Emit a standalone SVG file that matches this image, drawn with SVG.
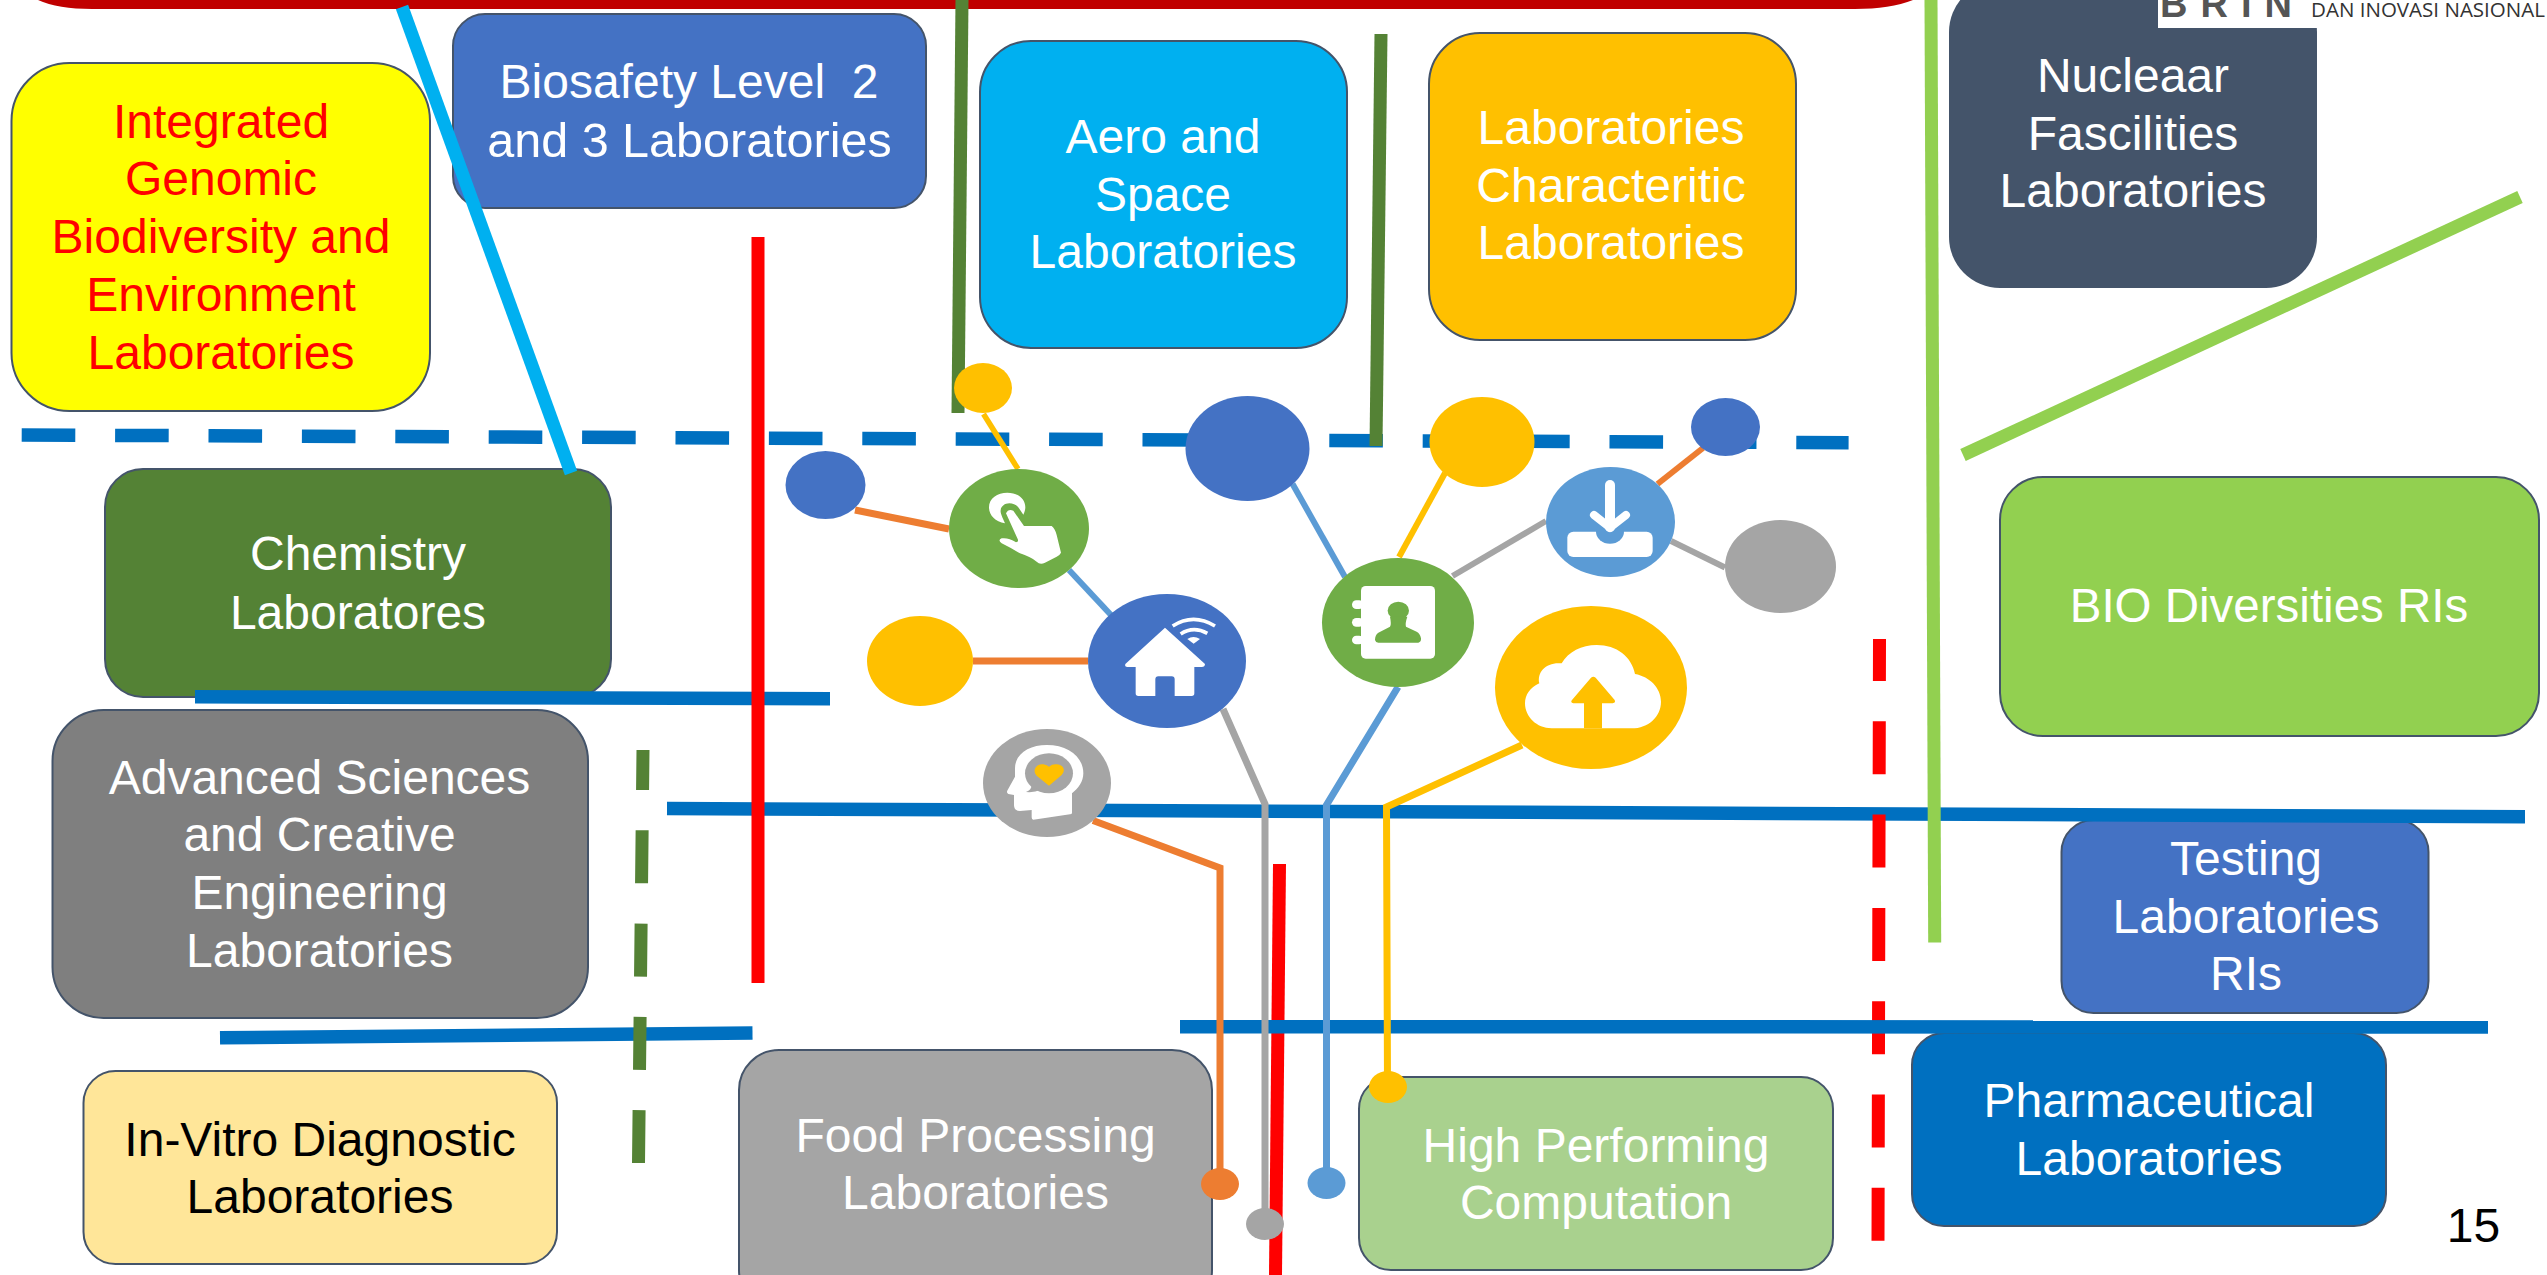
<svg xmlns="http://www.w3.org/2000/svg" width="2547" height="1275" viewBox="0 0 2547 1275">
<style>
text{font-family:"Liberation Sans",Arial,sans-serif;font-size:48px;text-anchor:middle;fill:#fff;white-space:pre}
.box{stroke:#44546A;stroke-width:2}
.w{fill:#fff}
.b13{stroke:#0070C0;stroke-width:13.5;fill:none}
.r13{stroke:#FF0000;stroke-width:13;fill:none}
.g13{stroke:#548235;stroke-width:13;fill:none}
.l13{stroke:#92D050;stroke-width:13;fill:none}
.c{fill:none;stroke-linejoin:miter}
.or{stroke:#ED7D31}.ye{stroke:#FFC000}.lb{stroke:#5B9BD5}.gr{stroke:#A5A5A5}
</style>
<rect width="2547" height="1275" fill="#fff"/>
<g id="top-bar"><path d="M38,0 Q58,9 92,9 L1855,9 Q1890,9 1913,0 Z" fill="#C00000"/></g>
<g id="integrated"><rect class="box" x="11.500" y="63" width="418.500" height="348" rx="58" fill="#FFFF00"/>
<text y="138" x="221" style="fill:#FF0000">Integrated</text><text y="195" x="221" style="fill:#FF0000">Genomic</text><text y="253" x="221" style="fill:#FF0000">Biodiversity and</text><text y="311" x="221" style="fill:#FF0000">Environment</text><text y="368.500" x="221" style="fill:#FF0000">Laboratories</text></g>
<g id="biosafety"><rect class="box" x="453" y="14" width="473" height="194" rx="32" fill="#4472C4"/>
<text x="689" y="98">Biosafety Level  2</text><text x="689.500" y="157" style="font-size:48.500px">and 3 Laboratories</text></g>
<g id="aero"><rect class="box" x="980" y="41" width="367" height="307" rx="51" fill="#00B0F0"/>
<text x="1163" y="153">Aero and</text><text x="1163" y="210.500">Space</text><text x="1163" y="268">Laboratories</text></g>
<g id="characteristic"><rect class="box" x="1429" y="33" width="367" height="307" rx="51" fill="#FFC000"/>
<text x="1611" y="144">Laboratories</text><text x="1611" y="202">Characteritic</text><text x="1611" y="259">Laboratories</text></g>
<g id="nuclear"><rect x="1949" y="-19" width="368" height="307" rx="51" fill="#44546A"/>
<text x="2133" y="92">Nucleaar</text><text x="2133" y="149.500">Fascilities</text><text x="2133" y="207">Laboratories</text></g>
<g id="logo"><rect x="2158" y="0" width="389" height="28" fill="#fff"/>
<text x="2160" y="17" style="text-anchor:start;font-size:38px;font-weight:bold;letter-spacing:13px;fill:#555">BRIN</text>
<text x="2311" y="16.500" textLength="234" lengthAdjust="spacingAndGlyphs" style="text-anchor:start;font-size:20px;fill:#333;font-family:'Open Sans','Liberation Sans',sans-serif">DAN INOVASI NASIONAL</text></g>
<g id="bio-diversities"><rect class="box" x="2000" y="477" width="539" height="259" rx="43" fill="#92D050"/>
<text x="2269" y="622" style="font-size:47.500px">BIO Diversities RIs</text></g>
<g id="chemistry"><rect class="box" x="105" y="469" width="506" height="228" rx="38" fill="#548235"/>
<text x="358" y="569.500">Chemistry</text><text x="358" y="628.500">Laboratores</text></g>
<g id="advanced"><rect class="box" x="52.500" y="710" width="535.500" height="308" rx="51" fill="#7F7F7F"/>
<text x="319.500" y="794">Advanced Sciences</text><text x="319.500" y="850.500">and Creative</text><text x="319.500" y="908.500">Engineering</text><text x="319.500" y="966.500">Laboratories</text></g>
<g id="in-vitro"><rect class="box" x="83.500" y="1071" width="473.500" height="193" rx="32" fill="#FFE699"/>
<text x="320" y="1155.500" style="fill:#000">In-Vitro Diagnostic</text><text x="320" y="1212.500" style="fill:#000">Laboratories</text></g>
<g id="food"><rect class="box" x="739" y="1050" width="473" height="260" rx="40" fill="#A5A5A5"/>
<text x="975.500" y="1151.500">Food Processing</text><text x="975.500" y="1208.500">Laboratories</text></g>
<g id="high-performing"><rect class="box" x="1359" y="1077" width="474" height="193" rx="32" fill="#A9D18E"/>
<text x="1596" y="1161.500">High Performing</text><text x="1596" y="1218.500">Computation</text></g>
<g id="testing"><rect class="box" x="2061.500" y="820" width="367" height="193" rx="32" fill="#4472C4"/>
<text x="2246" y="875">Testing</text><text x="2246" y="932.500">Laboratories</text><text x="2246" y="990">RIs</text></g>
<g id="pharmaceutical"><rect class="box" x="1912" y="1033" width="474" height="193" rx="32" fill="#0070C0"/>
<text x="2149" y="1117">Pharmaceutical</text><text x="2149" y="1175">Laboratories</text></g>
<g id="page-number"><text x="2473.500" y="1242" style="fill:#000">15</text></g>

<g id="connectors">
<line class="b13" x1="21.700" y1="435" x2="1848.600" y2="442.700" stroke-dasharray="53.600 39.800"/>
<line class="b13" x1="195" y1="696.700" x2="830" y2="698.700"/>
<line class="b13" x1="667" y1="808.500" x2="2525" y2="816.700"/>
<line class="b13" x1="220" y1="1037.700" x2="752.500" y2="1033"/>
<line class="r13" x1="758" y1="237" x2="758" y2="983"/>
<line class="r13" x1="1879.500" y1="639" x2="1878" y2="1241.500" stroke-dasharray="53 40.300" stroke-dashoffset="11"/>
<line class="r13" x1="1279.500" y1="864" x2="1275.500" y2="1275"/>
<line class="b13" x1="1180" y1="1026.700" x2="2488" y2="1027"/>
<line class="l13" x1="1931" y1="0" x2="1934.700" y2="942.500"/>
<line class="l13" x1="1963" y1="455" x2="2520" y2="197"/>
<line class="g13" x1="643" y1="750" x2="638.500" y2="1163" stroke-dasharray="53 40.300" stroke-dashoffset="13"/>
<line class="g13" x1="962" y1="0" x2="958" y2="413"/>
<line class="g13" x1="1381" y1="34" x2="1376" y2="446"/>
<line x1="402" y1="7" x2="571" y2="473" stroke="#00B0F0" stroke-width="13"/>
<path class="c or" stroke-width="7" d="M855,510 L949,529"/>
<path class="c ye" stroke-width="5.500" d="M983.500,414 L1018,469"/>
<path class="c lb" stroke-width="6" d="M1069,570 L1111,615"/>
<path class="c or" stroke-width="7" d="M973,661 L1088,661"/>
<path class="c lb" stroke-width="6" d="M1292.600,484 L1345,577"/>
<path class="c ye" stroke-width="6" d="M1445,473 L1399,557"/>
<path class="c gr" stroke-width="6" d="M1546,521 L1452.500,576"/>
<path class="c or" stroke-width="6" d="M1657.500,484 L1703,448"/>
<path class="c gr" stroke-width="6" d="M1671,541 L1725,567.500"/>
<path class="c gr" stroke-width="7" d="M1223,709 L1265,804 L1265,1224"/>
<path class="c or" stroke-width="7" d="M1093,820.500 L1220,868 L1220,1184"/>
<path class="c lb" stroke-width="7" d="M1398,687 L1326.500,805 L1326.500,1183"/>
<path class="c ye" stroke-width="7" d="M1522,745 L1386.500,807 L1387.500,1087"/>
</g>

<g id="dot-yellow-top"><ellipse cx="983" cy="388" rx="29" ry="25" fill="#FFC000"/></g>
<g id="dot-blue-left"><ellipse cx="825.500" cy="485" rx="40" ry="34" fill="#4472C4"/></g>
<g id="dot-blue-large"><ellipse cx="1247.500" cy="448.500" rx="62" ry="52.500" fill="#4472C4"/></g>
<g id="dot-yellow-mid"><ellipse cx="1482" cy="442" rx="52.500" ry="45" fill="#FFC000"/></g>
<g id="dot-blue-right"><ellipse cx="1725.500" cy="427" rx="34.500" ry="29" fill="#4472C4"/></g>
<g id="dot-grey-right"><ellipse cx="1780.500" cy="566.500" rx="55.500" ry="46.500" fill="#A5A5A5"/></g>
<g id="dot-yellow-left"><ellipse cx="920" cy="661" rx="53" ry="45" fill="#FFC000"/></g>
<g id="dot-orange-end"><ellipse cx="1220" cy="1184" rx="19" ry="16" fill="#ED7D31"/></g>
<g id="dot-grey-end"><ellipse cx="1265" cy="1224" rx="19" ry="16" fill="#A5A5A5"/></g>
<g id="dot-blue-end"><ellipse cx="1326.500" cy="1183" rx="19" ry="16" fill="#5B9BD5"/></g>
<g id="dot-yellow-end"><ellipse cx="1388" cy="1087" rx="19" ry="16" fill="#FFC000"/></g>

<g id="hub-touch"><ellipse cx="1019" cy="528.500" rx="70" ry="59.500" fill="#70AD47"/>
<g transform="translate(940,460) scale(.33333)">
<path class="w" d="M195,190 C165,185 147,165 147,142 C147,115 172,98 202,98 C235,98 256,118 256,142 C256,150 253,158 250,164 L238,146 C232,136 220,130 208,130 C192,130 180,142 182,156 C183,163 186,170 195,190 Z"/>
<path class="w" d="M198,160 Q205,145 220,152 L252,198 L335,198 Q345,205 350,225 L363,278 Q360,285 350,290 L315,308 Q300,315 290,305 Q275,292 240,280 Q215,265 185,250 Q172,240 185,235 Q205,232 228,247 Q238,245 232,235 Z"/>
</g></g>
<g id="hub-home"><ellipse cx="1167" cy="661" rx="79" ry="67" fill="#4472C4"/>
<g transform="translate(940,460) scale(.33333)">
<path class="w" d="M675,503 L795,612 Q795,621 785,621 L763,621 L763,700 Q763,708 755,708 L704,708 L704,658 Q704,649 695,649 L655,649 Q646,649 646,658 L646,708 L595,708 Q587,708 587,700 L587,621 L563,621 Q553,621 556,612 Z"/>
<path d="M698,498 Q760,458 825,498 M722,522 Q760,497 802,520" fill="none" stroke="#fff" stroke-width="11"/>
<path class="w" d="M742,537 Q760,525 780,537 L761,551 Z"/>
</g></g>
<g id="hub-head"><ellipse cx="1047" cy="783" rx="64" ry="54" fill="#A5A5A5"/>
<g transform="translate(940,460) scale(.33333)">
<path class="w" d="M225,925 C225,880 270,855 320,855 C385,855 430,890 430,940 C430,965 415,985 396,1000 L396,1058 Q396,1063 390,1063 L280,1079 Q275,1079 275,1072 L275,1050 L240,1053 Q222,1053 222,1035 L222,1005 L205,1002 Q198,998 203,990 L225,950 Z"/>
<ellipse cx="327" cy="940" rx="72" ry="60" fill="#A5A5A5"/>
<path d="M275,975 Q275,990 258,996 Q285,998 300,990 Z" fill="#A5A5A5"/>
<path d="M327,977 L290,947 C275,930 290,910 310,913 Q322,915 327,920 Q335,913 347,913 C368,912 380,930 365,945 Z" fill="#FFC000"/>
</g></g>
<g id="hub-contact"><ellipse cx="1398" cy="622.500" rx="76" ry="64.500" fill="#70AD47"/>
<g transform="translate(1310,440) scale(.33333)">
<rect class="w" x="153" y="438" width="222" height="218" rx="14"/>
<rect class="w" x="126" y="481" width="34" height="26" rx="13"/><rect class="w" x="126" y="534" width="34" height="26" rx="13"/><rect class="w" x="126" y="587" width="34" height="26" rx="13"/>
<ellipse cx="265" cy="512" rx="32" ry="27" fill="#70AD47"/>
<path d="M240,530 Q245,555 240,560 L205,578 Q195,585 195,600 Q197,608 205,608 L325,608 Q334,606 333,595 Q330,580 320,575 L288,560 Q285,550 292,530 Z" fill="#70AD47"/>
</g></g>
<g id="hub-download"><ellipse cx="1610.500" cy="522" rx="64.500" ry="55" fill="#5B9BD5"/>
<g transform="translate(1310,440) scale(.33333)">
<rect class="w" x="772" y="275" width="256" height="76" rx="18"/>
<ellipse cx="900" cy="275" rx="42" ry="36" fill="#5B9BD5"/>
<path d="M900,135 L900,262" fill="none" stroke="#fff" stroke-width="30" stroke-linecap="round"/>
<path d="M852,225 L900,263 L948,225" fill="none" stroke="#fff" stroke-width="24" stroke-linecap="round" stroke-linejoin="round"/>
</g></g>
<g id="hub-cloud"><ellipse cx="1591" cy="687.500" rx="96" ry="81.500" fill="#FFC000"/>
<g transform="translate(1310,440) scale(.33333)">
<path class="w" d="M725,865 C680,865 645,830 645,790 C645,765 660,742 688,730 C680,695 710,665 755,670 C775,635 815,615 860,615 C920,615 965,650 975,702 C1020,710 1053,745 1053,785 C1053,830 1015,865 965,865 Z"/>
<path d="M822,865 L822,790 L790,790 Q780,787 786,780 L843,713 Q850,708 857,713 L914,780 Q918,788 908,790 L876,790 L876,865 Z" fill="#FFC000"/>
</g></g>
</svg>
